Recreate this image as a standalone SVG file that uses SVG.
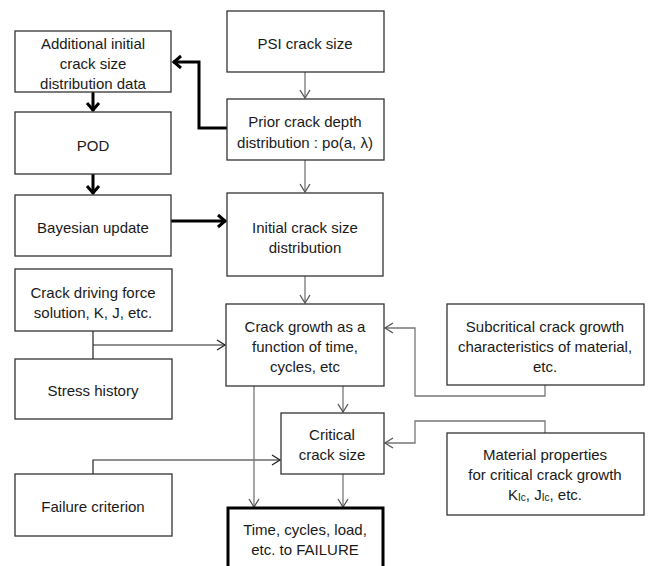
<svg xmlns="http://www.w3.org/2000/svg" width="648" height="566" viewBox="0 0 648 566">
<style>
.box{fill:#fff;stroke:#333;stroke-width:1.3}
.t{font-family:"Liberation Sans",Arial,sans-serif;font-size:15px;fill:#1a1a1a;text-anchor:middle;dominant-baseline:central}
.thin{fill:none;stroke:#777;stroke-width:1.3}
.dark{fill:none;stroke:#222;stroke-width:1.2}
.thick{fill:none;stroke:#000;stroke-width:3}
</style>
<defs>
<marker id="ah" markerUnits="userSpaceOnUse" markerWidth="14" markerHeight="14" viewBox="-10 -7 12 14" refX="0" refY="0" orient="auto">
<path d="M-8,-5 L0,0 L-8,5" fill="none" stroke="#555" stroke-width="1.3"/>
</marker>
<marker id="ahd" markerUnits="userSpaceOnUse" markerWidth="14" markerHeight="14" viewBox="-10 -7 12 14" refX="0" refY="0" orient="auto">
<path d="M-8,-5 L0,0 L-8,5" fill="none" stroke="#222" stroke-width="1.3"/>
</marker>
<marker id="ahk" markerUnits="userSpaceOnUse" markerWidth="16" markerHeight="16" viewBox="-11 -8 13 16" refX="0" refY="0" orient="auto">
<path d="M-8,-6 L-1,0 L-8,6" fill="none" stroke="#000" stroke-width="3"/>
</marker>
</defs>
<rect width="648" height="566" fill="#fff"/>

<g id="connectors">
<line class="thin" x1="305" y1="72" x2="305" y2="98" marker-end="url(#ah)"/>
<line class="thin" x1="305" y1="160" x2="305" y2="192" marker-end="url(#ah)"/>
<path class="thick" d="M227,128 H199 V62 H173" marker-end="url(#ahk)"/>
<line class="thick" x1="93" y1="92" x2="93" y2="111" marker-end="url(#ahk)"/>
<line class="thick" x1="93" y1="174" x2="93" y2="194" marker-end="url(#ahk)"/>
<line class="thick" x1="171" y1="221" x2="226" y2="221" marker-end="url(#ahk)"/>
<line class="thin" x1="305" y1="276" x2="305" y2="303" marker-end="url(#ah)"/>
<line class="dark" x1="93" y1="331" x2="93" y2="359"/>
<line class="dark" x1="93" y1="345" x2="225" y2="345" marker-end="url(#ahd)"/>
<path class="thin" d="M545,385 V396 H415 V328 H385" marker-end="url(#ah)"/>
<path class="thin" d="M545,433 V421 H415 V443 H385" marker-end="url(#ah)"/>
<path class="dark" d="M93,474 V460 H280" marker-end="url(#ahd)"/>
<line class="thin" x1="254" y1="386" x2="254" y2="507" marker-end="url(#ah)"/>
<line class="thin" x1="343" y1="386" x2="343" y2="412" marker-end="url(#ah)"/>
<line class="thin" x1="343" y1="474" x2="343" y2="507" marker-end="url(#ah)"/>
</g>

<g id="additional">
<rect class="box" x="15" y="31" width="156" height="61"/>
<text class="t" x="93" y="43">Additional initial</text>
<text class="t" x="93" y="63">crack size</text>
<text class="t" x="93" y="83">distribution data</text>
</g>
<g id="psi">
<rect class="box" x="227" y="11" width="157" height="61"/>
<text class="t" x="305" y="43">PSI crack size</text>
</g>
<g id="prior">
<rect class="box" x="227" y="99" width="157" height="61"/>
<text class="t" x="305" y="121">Prior crack depth</text>
<text class="t" x="305" y="142">distribution : po(a, λ)</text>
</g>
<g id="pod">
<rect class="box" x="15" y="112" width="156" height="62"/>
<text class="t" x="93" y="145">POD</text>
</g>
<g id="bayesian">
<rect class="box" x="15" y="195" width="156" height="61"/>
<text class="t" x="93" y="227">Bayesian update</text>
</g>
<g id="initial">
<rect class="box" x="227" y="193" width="156" height="83"/>
<text class="t" x="305" y="227">Initial crack size</text>
<text class="t" x="305" y="247">distribution</text>
</g>
<g id="driving">
<rect class="box" x="15" y="269" width="157" height="62"/>
<text class="t" x="93" y="292">Crack driving force</text>
<text class="t" x="93" y="312">solution, K, J, etc.</text>
</g>
<g id="stress">
<rect class="box" x="15" y="359" width="157" height="60"/>
<text class="t" x="93" y="390">Stress history</text>
</g>
<g id="growth">
<rect class="box" x="226" y="304" width="158" height="82"/>
<text class="t" x="305" y="326">Crack growth as a</text>
<text class="t" x="305" y="346">function of time,</text>
<text class="t" x="305" y="366">cycles, etc</text>
</g>
<g id="subcritical">
<rect class="box" x="447" y="304" width="197" height="81"/>
<text class="t" x="545" y="326">Subcritical crack growth</text>
<text class="t" x="545" y="346">characteristics of material,</text>
<text class="t" x="545" y="366">etc.</text>
</g>
<g id="critical">
<rect class="box" x="281" y="413" width="103" height="61"/>
<text class="t" x="332" y="434">Critical</text>
<text class="t" x="332" y="454">crack size</text>
</g>
<g id="material">
<rect class="box" x="447" y="433" width="197" height="82"/>
<text class="t" x="545" y="454">Material properties</text>
<text class="t" x="545" y="474">for critical crack growth</text>
<text class="t" x="545" y="494">K<tspan font-size="10" dy="3">Ic</tspan><tspan dy="-3">, J</tspan><tspan font-size="10" dy="3">Ic</tspan><tspan dy="-3">, etc.</tspan></text>
</g>
<g id="failure">
<rect class="box" x="15" y="474" width="157" height="62"/>
<text class="t" x="93" y="506">Failure criterion</text>
</g>
<g id="time">
<rect x="228" y="508" width="155" height="70" fill="#fff" stroke="#000" stroke-width="3"/>
<text class="t" x="305" y="529">Time, cycles, load,</text>
<text class="t" x="305" y="549">etc. to FAILURE</text>
</g>
</svg>
